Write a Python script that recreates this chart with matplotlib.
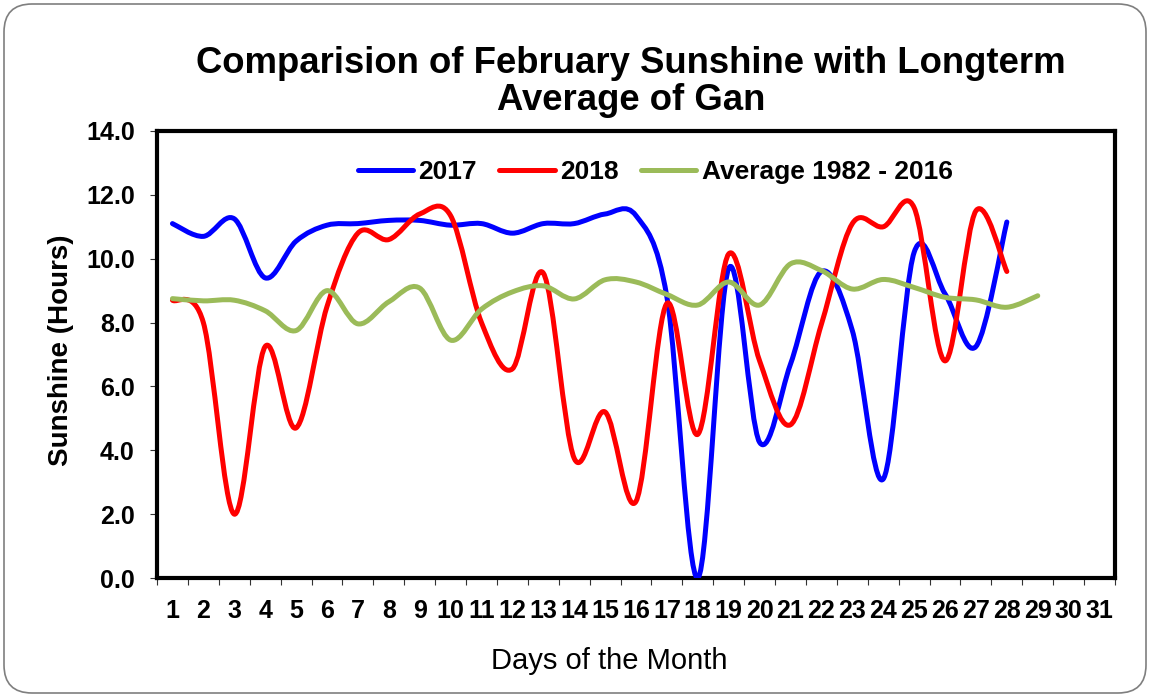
import numpy as np
import matplotlib
matplotlib.use("Agg")
import matplotlib.pyplot as plt
from matplotlib.path import Path
from matplotlib.patches import PathPatch, FancyBboxPatch
from matplotlib.lines import Line2D
from matplotlib.transforms import IdentityTransform
from matplotlib.ticker import FixedLocator, FixedFormatter, NullFormatter

plt.rcParams['font.family'] = ['Liberation Sans', 'DejaVu Sans']

# ---------------- data ----------------
days = list(range(1, 32))
day_labels = [str(d) for d in days]

sun_2017 = [11.1, 10.7, 11.25, 9.4, 10.55, 11.05, 11.1, 11.2, 11.2, 11.05,
            11.1, 10.8, 11.1, 11.1, 11.4, 11.35, 8.8, 0.0, 9.7, 4.25,
            6.7, 9.6, 7.75, 3.1, 10.2, 8.9, 7.25, 11.15]
sun_2018 = [8.7, 8.0, 2.0, 7.25, 4.7, 8.5, 10.8, 10.6, 11.4, 11.35,
            8.0, 6.55, 9.55, 3.75, 5.2, 2.4, 8.6, 4.5, 10.15, 6.8,
            4.8, 7.95, 11.1, 11.0, 11.6, 6.8, 11.5, 9.6]
sun_avg = [8.75, 8.68, 8.7, 8.37, 7.75, 9.0, 7.96, 8.65, 9.08, 7.45,
           8.42, 8.96, 9.15, 8.74, 9.34, 9.27, 8.88, 8.55, 9.27, 8.55,
           9.84, 9.63, 9.05, 9.35, 9.1, 8.79, 8.71, 8.48, 8.84]

series_names = ['2017', '2018', 'Average 1982 - 2016']
series_values = [sun_2017, sun_2018, sun_avg]
series_colors = ['#0000FF', '#FF0000', '#9BBB59']

y_ticks = [0, 2, 4, 6, 8, 10, 12, 14]


def smooth_path(yvals):
    """Excel-style smoothed line: cubic Bezier segments through the points."""
    pts = np.column_stack([np.arange(1, len(yvals) + 1), yvals]).astype(float)
    n = len(pts)
    verts = [pts[0]]
    codes = [Path.MOVETO]
    for i in range(n - 1):
        p0 = pts[i - 1] if i > 0 else pts[i]
        p1 = pts[i]
        p2 = pts[i + 1]
        p3 = pts[i + 2] if i + 2 < n else pts[i + 1]
        c1 = p1 + (p2 - p0) / 6.0
        c2 = p2 - (p3 - p1) / 6.0
        verts += [c1, c2, p2]
        codes += [Path.CURVE4] * 3
    return Path(np.array(verts), codes)


fig = plt.figure(figsize=(11.51, 6.96), dpi=100)
W, H = 1151, 696
ax = fig.add_axes([157 / W, 1 - 578 / H, (1115 - 157) / W, (578 - 131) / H])

# outer rounded border
border = FancyBboxPatch((4, 3), W - 9, H - 7,
                        boxstyle="round,pad=0,rounding_size=28",
                        transform=IdentityTransform(), fill=False,
                        edgecolor='#7f7f7f', linewidth=1.2)
fig.add_artist(border)

handles = []
for name, vals, col in zip(series_names, series_values, series_colors):
    p = PathPatch(smooth_path(vals), fill=False, edgecolor=col, linewidth=3.6,
                  capstyle='round', joinstyle='round', zorder=3)
    ax.add_patch(p)
    handles.append(Line2D([], [], color=col, linewidth=3.6, solid_capstyle='round'))

ax.set_xlim(0.5, 31.5)
ax.set_ylim(0, 14)

# x axis: boundary ticks, labels at day centres
ax.xaxis.set_major_locator(FixedLocator(np.arange(0.5, 32, 1.0)))
ax.xaxis.set_major_formatter(NullFormatter())
ax.xaxis.set_minor_locator(FixedLocator(days))
ax.xaxis.set_minor_formatter(FixedFormatter(day_labels))
ax.tick_params(axis='x', which='major', direction='out', length=5, width=0.8, color='#333333')
ax.tick_params(axis='x', which='minor', length=0, pad=15, labelsize=18)
for lab in ax.xaxis.get_minorticklabels():
    lab.set_fontweight('bold')

ax.set_yticks(y_ticks)
ax.set_yticklabels([f"{v:.1f}" for v in y_ticks], fontsize=18, fontweight='bold')
ax.tick_params(axis='y', direction='out', length=5, width=0.8, color='#333333', pad=11)

for s in ax.spines.values():
    s.set_linewidth(3)
    s.set_color('black')

ax.set_ylabel('Sunshine (Hours)', fontsize=20, fontweight='bold')
ax.yaxis.set_label_coords(-0.087, 0.51)
ax.set_xlabel('Days of the Month', fontsize=21)
ax.xaxis.set_label_coords(0.472, -0.155)

fig.text(631 / W, 1 - 82 / H, 'Comparision of February Sunshine with Longterm\nAverage of Gan',
         ha='center', va='center', fontsize=26.3, fontweight='bold', linespacing=1.1)

leg = ax.legend(handles, series_names, loc='center', bbox_to_anchor=(0.52, 0.908),
                ncol=3, frameon=False, handlelength=2.1, handletextpad=0.2,
                columnspacing=0.85, prop={'size': 19, 'weight': 'bold'})

fig.savefig('out.png', dpi=100)
